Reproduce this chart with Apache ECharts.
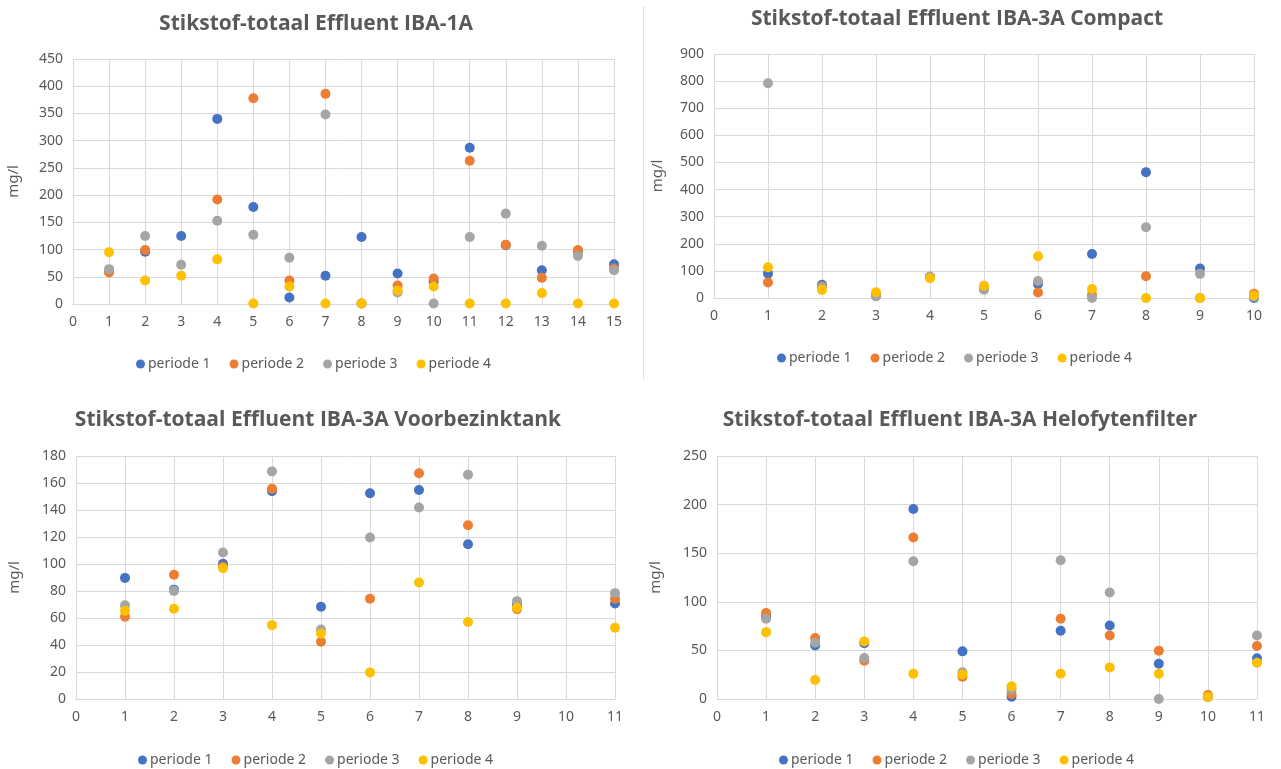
<!DOCTYPE html>
<html>
<head>
<meta charset="utf-8">
<script src="https://cdn.jsdelivr.net/npm/echarts@6/dist/echarts.min.js"></script>
<style>
html,body{margin:0;padding:0;background:#fff;}
#chart{width:1281px;height:769px;}
</style>
</head>
<body>
<div id="chart"></div>
<script>
// Stikstof-totaal (mg/l) per meetmoment, vier periodes per installatie
const seriesNames = ['periode 1', 'periode 2', 'periode 3', 'periode 4'];
const colors = ['#4472C4', '#ED7D31', '#A5A5A5', '#FFC000'];

const titles = [
  'Stikstof-totaal Effluent IBA-1A',
  'Stikstof-totaal Effluent IBA-3A Compact',
  'Stikstof-totaal Effluent IBA-3A Voorbezinktank',
  'Stikstof-totaal Effluent IBA-3A Helofytenfilter'
];

// IBA-1A, meetmoment 1..15
const iba1a_p1 = [60, 96, 125, 340, 178, 12, 52, 123, 56, 42, 287, 108, 62, 97, 73];
const iba1a_p2 = [58, 99, null, 192, 378, 43, 386, 1, 34, 47, 263, 109, 48, 99, 65];
const iba1a_p3 = [64, 125, 72, 153, 127, 85, 348, 1, 21, 1, 123, 166, 107, 88, 62];
const iba1a_p4 = [95, 43, 52, 82, 1, 32, 1, 1, 25, 32, 1, 1, 20, 1, 1];

// IBA-3A Compact, meetmoment 1..10
const compact_p1 = [90, 49, 10, 77, 35, 52, 162, 464, 109, 0];
const compact_p2 = [57, 43, 10, 77, 35, 20, 12, 80, 0, 16];
const compact_p3 = [792, 40, 6, 79, 31, 63, 0, 261, 89, 5];
const compact_p4 = [113, 30, 21, 73, 45, 154, 33, 0, 0, 9];

// IBA-3A Voorbezinktank, meetmoment 1..11 (geen meting op 10)
const vbt_p1 = [89.7, 81, 100.1, 154, 68.3, 152.4, 154.8, 114.6, 69.8, null, 70.8];
const vbt_p2 = [60.9, 92, 98, 155.8, 42.4, 74.2, 167.2, 128.7, 66.6, null, 74.2];
const vbt_p3 = [69.5, 80.1, 108.5, 168.6, 51.5, 119.6, 141.8, 166.2, 72.5, null, 78.4];
const vbt_p4 = [65.3, 66.8, 96.9, 54.7, 48.6, 19.7, 86.3, 57, 67.6, null, 52.8];

// IBA-3A Helofytenfilter, meetmoment 1..11
const helo_p1 = [85, 55.1, 57.5, 195.5, 49, 2.4, 70.2, 75.7, 36.3, 2, 41.8];
const helo_p2 = [88.4, 62.7, 39.4, 166.1, 22.9, 5.1, 82.5, 65.4, 49.7, 4.1, 54.5];
const helo_p3 = [82.5, 57.9, 42.1, 141.8, 27.4, 9.9, 142.8, 109.6, 0, 2, 65.4];
const helo_p4 = [68.8, 19.5, 59.2, 26, 25.3, 13, 26, 32.5, 26, 2.4, 37.3];

const panelData = [
  [iba1a_p1, iba1a_p2, iba1a_p3, iba1a_p4],
  [compact_p1, compact_p2, compact_p3, compact_p4],
  [vbt_p1, vbt_p2, vbt_p3, vbt_p4],
  [helo_p1, helo_p2, helo_p3, helo_p4]
];
const xMax = [15, 10, 11, 11];
const yMax = [450, 900, 180, 250];
const yStep = [50, 100, 20, 50];

// panel layout
const grids = [
  { left: 73, right: 667, top: 59, bottom: 465 },
  { left: 714, right: 27, top: 54, bottom: 471 },
  { left: 76, right: 666, top: 456, bottom: 70 },
  { left: 717, right: 24, top: 456, bottom: 70 }
];
const titlePos = [[311, 9], [952, 4], [313, 405], [955, 405]];
const legendPos = [[131, 352], [772, 346], [133, 748], [774, 748]];
const nameGaps = [52, 49, 54, 54];

const textColor = '#595959';
const gridColor = '#D9D9D9';
const fontFamily = "'Noto Sans', sans-serif";

const pairs = arr => arr.map((v, i) => [i + 1, v]).filter(p => p[1] !== null);

const option = {
  animation: false,
  backgroundColor: '#ffffff',
  color: colors,
  title: titles.map((t, i) => ({
    text: t,
    left: titlePos[i][0],
    top: titlePos[i][1],
    textAlign: 'center',
    textStyle: { color: textColor, fontSize: 21, fontWeight: 'bold', fontFamily: "'Open Sans', 'Noto Sans', sans-serif" }
  })),
  legend: legendPos.map((p, i) => ({
    left: p[0],
    top: p[1],
    icon: 'circle',
    itemWidth: 9,
    itemHeight: 9,
    itemGap: 19,
    data: seriesNames,
    textStyle: { color: textColor, fontSize: 14, fontFamily: fontFamily, padding: [0, 0, 0, -2] }
  })),
  grid: grids,
  xAxis: grids.map((g, i) => ({
    type: 'value',
    gridIndex: i,
    min: 0,
    max: xMax[i],
    interval: 1,
    axisLine: { show: true, lineStyle: { color: gridColor } },
    axisTick: { show: false },
    axisLabel: { color: textColor, fontSize: 14, margin: 11, fontFamily: fontFamily },
    splitLine: { show: true, lineStyle: { color: gridColor } }
  })),
  yAxis: grids.map((g, i) => ({
    type: 'value',
    gridIndex: i,
    min: 0,
    max: yMax[i],
    interval: yStep[i],
    name: 'mg/l',
    nameLocation: 'middle',
    nameGap: nameGaps[i],
    nameRotate: 90,
    nameTextStyle: { color: textColor, fontSize: 15, fontFamily: fontFamily },
    axisLine: { show: false },
    axisTick: { show: false },
    axisLabel: { color: textColor, fontSize: 14, margin: 10, fontFamily: fontFamily },
    splitLine: { show: true, lineStyle: { color: gridColor } }
  })),
  series: [],
  graphic: [{
    type: 'line',
    shape: { x1: 643.5, y1: 6, x2: 643.5, y2: 380 },
    style: { stroke: '#E0E0E0', lineWidth: 1 }
  }]
};

panelData.forEach((set, gi) => {
  set.forEach((arr, si) => {
    option.series.push({
      name: seriesNames[si],
      type: 'scatter',
      xAxisIndex: gi,
      yAxisIndex: gi,
      symbol: 'circle',
      symbolSize: 10,
      itemStyle: { color: colors[si], opacity: 1 },
      data: pairs(arr)
    });
  });
});

const chart = echarts.init(document.getElementById('chart'), null, { renderer: 'canvas' });
chart.setOption(option);
</script>
</body>
</html>
